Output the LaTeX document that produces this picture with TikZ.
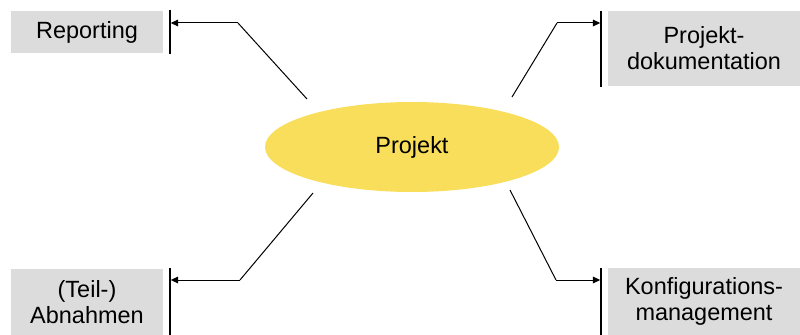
\documentclass[tikz,border=0pt]{standalone}
\usepackage{fontspec}
\setmainfont{Liberation Sans}
\usetikzlibrary{arrows.meta,shapes.geometric}
\definecolor{boxgray}{HTML}{DCDCDC}
\definecolor{projyellow}{HTML}{F8DE5A}
\begin{document}
\begin{tikzpicture}[x=0.75pt,y=-0.75pt,
  topic/.style={fill=boxgray, draw=none, inner sep=0pt, align=center,
    font=\fontsize{17.6}{19.5}\selectfont},
  hub/.style={ellipse, fill=projyellow, draw=none, inner sep=0pt,
    minimum width=220.5pt, minimum height=67.5pt,
    font=\fontsize{17.6}{19.5}\selectfont},
  lead/.style={line width=0.75pt},
  conn/.style={line width=0.75pt, -{Triangle[length=5.5pt,width=5pt]}},
  bar/.style={line width=1.1pt}]
\useasboundingbox (0,0) rectangle (800,335);

% central topic
\node[hub] (proj) at (412,147) {Projekt};

% surrounding topics
\node[topic, minimum width=114pt, minimum height=31.5pt] (rep) at (87,32.5) {Reporting};
\node[topic, minimum width=144pt, minimum height=56.25pt] (doc) at (704,48.5) {Projekt-\\dokumentation};
\node[topic, minimum width=114pt, minimum height=49.5pt] (abn) at (87,302) {(Teil-)\\Abnahmen};
\node[topic, minimum width=144pt, minimum height=50.25pt] (kon) at (704,301.5) {Konfigurations-\\management};

% vertical bars in front of the topics
\coordinate (b1t) at (170,10);  \coordinate (b1b) at (170,54);
\coordinate (b2t) at (601,11);  \coordinate (b2b) at (601,87);
\coordinate (b3t) at (170,268); \coordinate (b3b) at (170,335);
\coordinate (b4t) at (601,268); \coordinate (b4b) at (601,335);
\draw[bar] (b1t) -- (b1b);
\draw[bar] (b2t) -- (b2b);
\draw[bar] (b3t) -- (b3b);
\draw[bar] (b4t) -- (b4b);

% connector start points and knees
\coordinate (s1) at (307,99);  \coordinate (k1) at (238,23);
\coordinate (s2) at (512,97);  \coordinate (k2) at (557,23);
\coordinate (s3) at (313,193); \coordinate (k3) at (240,280);
\coordinate (s4) at (510,190); \coordinate (k4) at (556,280);

% arrow ends on the bars
\coordinate (e1) at ([xshift=0.6pt]b1t |- k1);
\coordinate (e2) at ([xshift=-0.6pt]b2t |- k2);
\coordinate (e3) at ([xshift=0.6pt]b3t |- k3);
\coordinate (e4) at ([xshift=-0.6pt]b4t |- k4);

\draw[lead] (s1) -- (k1);
\draw[conn] (k1) -- (e1);
\draw[lead] (s2) -- (k2);
\draw[conn] (k2) -- (e2);
\draw[lead] (s3) -- (k3);
\draw[conn] (k3) -- (e3);
\draw[lead] (s4) -- (k4);
\draw[conn] (k4) -- (e4);
\end{tikzpicture}
\end{document}
